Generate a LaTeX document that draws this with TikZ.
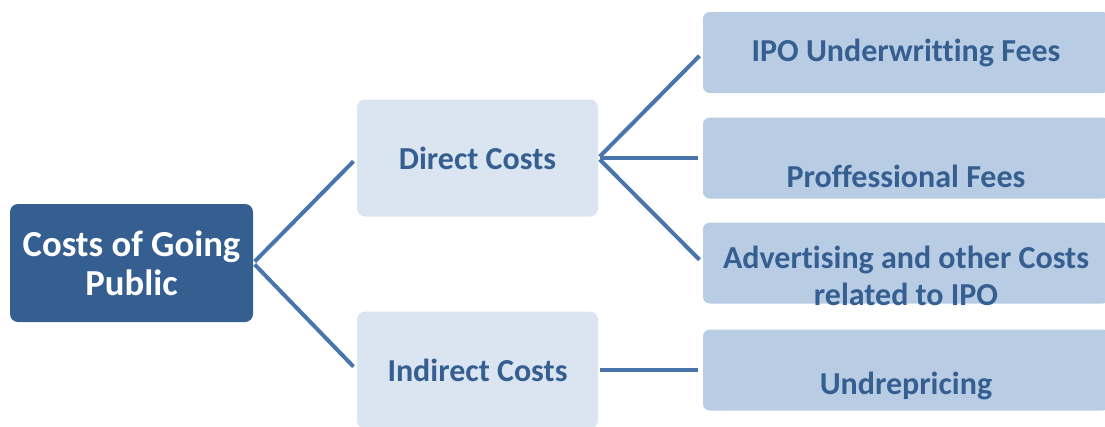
\documentclass[tikz,border=0pt]{standalone}
\usepackage{fontspec}
\setmainfont{Carlito}[Ligatures=NoCommon]
\usetikzlibrary{positioning}

\definecolor{rootblue}{HTML}{365F91}
\definecolor{midfill}{HTML}{DBE5F1}
\definecolor{leaffill}{HTML}{B8CCE4}
\definecolor{inkblue}{HTML}{365F91}
\definecolor{linkblue}{HTML}{4A75AC}

\begin{document}
\begin{tikzpicture}[x=0.75pt,y=-0.75pt,
  rootbox/.style={fill=rootblue,text=white,rounded corners=6pt,minimum width=182.25pt,minimum height=88.5pt,align=center,font=\bfseries\fontsize{27.5}{29}\selectfont},
  midbox/.style={fill=midfill,text=inkblue,rounded corners=6pt,minimum width=180.75pt,minimum height=87.75pt,font=\bfseries\fontsize{24}{28}\selectfont},
  leafbox/.style={fill=leaffill,rounded corners=5pt,minimum width=304.5pt,minimum height=60.75pt},
  leaftext/.style={text=inkblue,align=center,font=\bfseries\fontsize{24}{27.75}\selectfont},
  link/.style={draw=linkblue,line width=3pt,shorten <=1.5pt,shorten >=3.5pt}]

\clip (0,0) rectangle (1105,426);

\node[rootbox] (root) at (131.5,263) {Costs of Going\\Public};
\node[midbox] (direct) at (477.5,158) {Direct Costs};
\node[midbox] (indirect) at (477.5,370) {Indirect Costs};

% leaf boxes; the text sits a bit low in some of them
\def\leaves{ipo/52.5/0/{IPO Underwritting Fees},prof/158/-13.5/{Proffessional Fees},adv/263/-10/{Advertising and other Costs\\related to IPO},under/370/-12/{Undrepricing}}
\foreach \n/\y/\dy/\txt in \leaves {
  \node[leafbox] (\n) at (906,\y) {};
  \node[leaftext] (\n-text) at ([yshift=\dy pt]\n.center) {\txt};
}

\draw[link] (root.east) -- (direct.west);
\draw[link] (root.east) -- (indirect.west);
\foreach \n in {ipo,prof,adv}
  \draw[link] (direct.east) -- (\n.west);
\draw[link] (indirect.east) -- (under.west);

\end{tikzpicture}
\end{document}
